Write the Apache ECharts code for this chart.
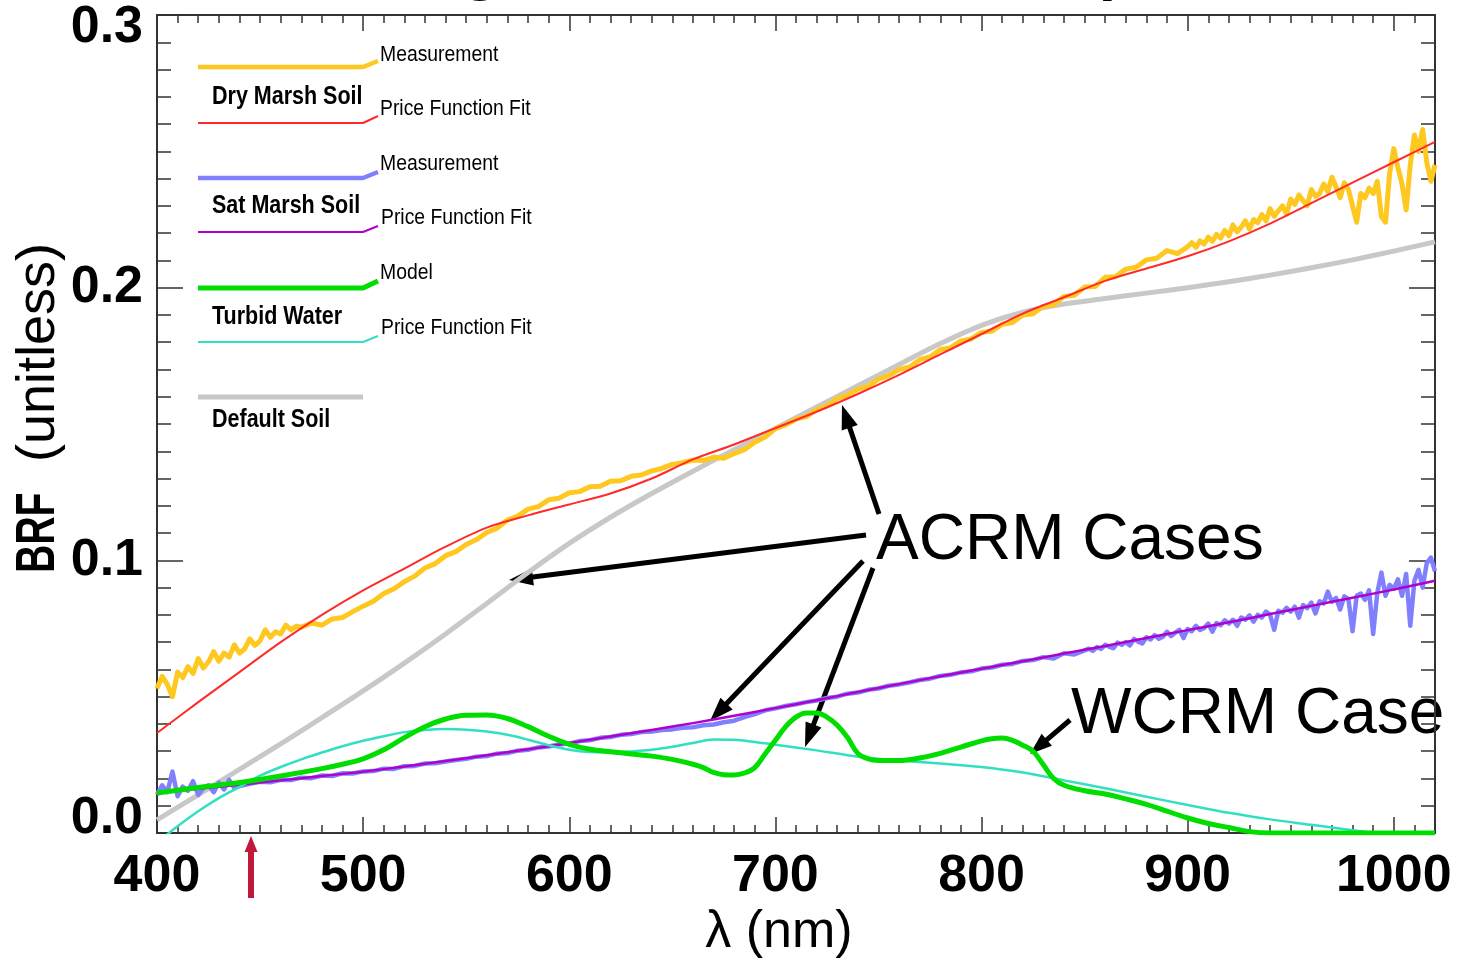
<!DOCTYPE html>
<html>
<head>
<meta charset="utf-8">
<title>BRF spectra</title>
<script src="https://cdn.jsdelivr.net/npm/echarts@6/dist/echarts.min.js"></script>
<style>
  html, body { margin: 0; padding: 0; background: #fff; }
  #chart { width: 1459px; height: 961px; }
</style>
</head>
<body>
<div id="chart"></div>
<script>
// ---- wavelength grids (nm) ----
function range(a, b, step) {
  const out = [];
  for (let i = 0; a + i * step <= b + 1e-9; i++) out.push(+(a + i * step).toFixed(2));
  return out;
}
const wl20 = range(400, 1020, 20);
// measured spectra: finer sampling at the noisy ends of the detector range
const dryWl = range(400, 470, 2.5).concat(range(475, 895, 5), range(900, 1020, 2));
const satWl = range(400, 440, 2.5).concat(range(445, 845, 5), range(850, 1020, 2));

// Dry marsh soil, measured BRF
const dryMeasured = [
  // 400-470 (2.5 nm)
  .0530,.0575,.0545,.0500,.0590,.0570,.0610,.0585,.0640,.0605,
  .0628,.0665,.0630,.0660,.0645,.0690,.0660,.0675,.0712,.0688,
  .0705,.0745,.0718,.0738,.0730,.0762,.0745,.0758,.0755,
  // 475-895 (5 nm)
  .0770,.0762,.0785,.0790,.0812,.0832,.0850,.0878,.0896,.0922,
  .0942,.0972,.0988,.1017,.1032,.1058,.1076,.1102,.1118,.1148,
  .1162,.1188,.1197,.1222,.1228,.1248,.1252,.1270,.1272,.1290,
  .1292,.1308,.1313,.1328,.1337,.1352,.1358,.1368,.1366,.1378,
  .1374,.1392,.1406,.1433,.1452,.1483,.1497,.1518,.1527,.1553,
  .1566,.1594,.1606,.1628,.1638,.1665,.1677,.1700,.1708,.1736,
  .1746,.1773,.1779,.1805,.1812,.1836,.1840,.1866,.1872,.1900,
  .1904,.1932,.1936,.1968,.1972,.2002,.2004,.2038,.2040,.2068,
  .2075,.2102,.2108,.2136,.2125,
  // 900-1020 (2 nm)
  .2150,.2165,.2148,.2172,.2160,.2185,.2170,.2195,.2182,.2210,
  .2190,.2230,.2205,.2222,.2245,.2215,.2250,.2238,.2268,.2245,
  .2290,.2262,.2282,.2300,.2270,.2325,.2305,.2340,.2318,.2300,
  .2360,.2335,.2345,.2380,.2352,.2405,.2370,.2330,.2385,.2360,
  .2300,.2240,.2345,.2330,.2365,.2345,.2390,.2260,.2240,.2420,
  .2510,.2440,.2380,.2285,.2450,.2560,.2500,.2580,.2460,.2390,
  .2450
];
// Dry marsh soil, Price function fit (20 nm)
const dryFit = [
  .0367,.0480,.0590,.0700,.0800,.0890,.0970,.1050,.1120,.1165,
  .1205,.1245,.1300,.1370,.1425,.1485,.1545,.1610,.1680,.1755,
  .1830,.1905,.1965,.2025,.2070,.2115,.2170,.2235,.2310,.2385,
  .2460,.2535
];
// Saturated marsh soil, measured BRF
const satMeasured = [
  // 400-440 (2.5 nm)
  .0140,.0175,.0150,.0225,.0135,.0170,.0155,.0190,.0140,.0165,
  .0175,.0150,.0185,.0160,.0195,.0165,.0172,
  // 445-845 (5 nm)
  .0180,.0188,.0186,.0195,.0194,.0203,.0201,.0211,.0209,.0219,
  .0218,.0226,.0227,.0236,.0235,.0245,.0246,.0255,.0256,.0262,
  .0268,.0272,.0280,.0282,.0291,.0293,.0302,.0305,.0314,.0317,
  .0325,.0328,.0337,.0340,.0349,.0352,.0360,.0363,.0370,.0372,
  .0378,.0380,.0386,.0388,.0395,.0398,.0406,.0412,.0425,.0436,
  .0450,.0457,.0466,.0472,.0480,.0486,.0495,.0500,.0511,.0515,
  .0525,.0530,.0540,.0545,.0552,.0561,.0566,.0576,.0580,.0589,
  .0593,.0603,.0607,.0617,.0620,.0631,.0634,.0645,.0640,.0659,
  .0655,
  // 850-1020 (2 nm)
  .0670,.0676,.0668,.0682,.0675,.0690,.0683,.0678,.0698,.0690,
  .0700,.0688,.0712,.0702,.0695,.0718,.0710,.0726,.0712,.0720,
  .0738,.0722,.0735,.0745,.0715,.0748,.0740,.0760,.0745,.0752,
  .0768,.0738,.0770,.0762,.0780,.0768,.0782,.0760,.0790,.0782,
  .0798,.0775,.0800,.0790,.0812,.0800,.0745,.0815,.0808,.0826,
  .0812,.0830,.0790,.0836,.0825,.0845,.0805,.0850,.0842,.0885,
  .0848,.0862,.0820,.0868,.0858,.0740,.0870,.0878,.0855,.0890,
  .0730,.0880,.0955,.0870,.0910,.0895,.0930,.0870,.0950,.0760,
  .0925,.0965,.0900,.0990,.1010,.0960
];
// Saturated marsh soil, Price function fit (20 nm)
const satFit = [
  .0147,.0162,.0177,.0193,.0209,.0225,.0244,.0264,.0285,.0307,
  .0330,.0354,.0378,.0403,.0430,.0458,.0487,.0517,.0546,.0575,
  .0602,.0630,.0658,.0686,.0715,.0744,.0773,.0803,.0833,.0863,
  .0893,.0925
];
// Turbid water, model
const waterModelWl = [
  400,420,440,460,480,490,500,510,520,530,540,550,560,570,580,590,600,610,620,630,
  640,650,660,665,670,675,680,685,690,695,700,705,710,715,720,725,730,735,740,745,
  750,760,770,780,790,800,805,810,815,820,825,830,835,840,850,860,870,880,890,900,
  910,920,930,940,960,980,1000,1020
];
const waterModel = [
  .0147,.0167,.0185,.0209,.0236,.0252,.0272,.0305,.0350,.0390,.0418,.0432,.0433,.0420,.0390,.0355,.0325,.0307,.0298,.0290,
  .0282,.0270,.0252,.0240,.0222,.0214,.0213,.0220,.0240,.0290,.0340,.0390,.0425,.0440,.0440,.0425,.0395,.0350,.0292,.0272,
  .0266,.0266,.0275,.0292,.0315,.0338,.0346,.0348,.0340,.0322,.0300,.0250,.0200,.0175,.0155,.0143,.0125,.0105,.0080,.0055,
  .0035,.0020,.0005,0,0,0,0,0
];
// Turbid water, Price function fit
const waterFitWl = [
  400,410,420,430,440,450,460,470,480,490,500,510,520,530,540,550,560,570,580,590,
  600,610,620,630,640,650,660,670,680,690,700,720,740,760,780,800,820,840,860,880,
  900,920,940,960,980,1000,1020
];
const waterFit = [
  -.0035,.0025,.0080,.0128,.0169,.0210,.0242,.0270,.0295,.0318,.0338,.0355,.0370,.0378,.0381,.0379,.0372,.0360,.0342,.0322,
  .0305,.0297,.0296,.0299,.0305,.0316,.0330,.0343,.0342,.0334,.0324,.0303,.0280,.0266,.0255,.0242,.0222,.0193,.0164,.0133,
  .0103,.0074,.0050,.0030,.0010,-.0008,-.0025
];
// Default soil (20 nm)
const defaultSoil = [
  .0048,.0140,.0233,.0327,.0423,.0521,.0623,.0730,.0842,.0955,
  .1062,.1158,.1245,.1327,.1406,.1484,.1562,.1640,.1718,.1795,
  .1862,.1910,.1940,.1960,.1980,.2000,.2022,.2046,.2073,.2102,
  .2134,.2168
];

// tick labels
const xTickValues = [400, 500, 600, 700, 800, 900, 1000];
const yTickValues = [0, 0.1, 0.2, 0.3];

const FONT = "'Liberation Sans', Arial, Helvetica, sans-serif";
const AXIS = '#333';

function pairs(xs, ys) { return xs.map((x, i) => [x, ys[i]]); }

function lineSeries(name, xs, ys, color, width, smooth) {
  return {
    name: name, type: 'line', data: pairs(xs, ys),
    symbol: 'none', smooth: smooth, clip: true,
    lineStyle: { color: color, width: width, join: 'round' },
    xAxisIndex: 0, yAxisIndex: 0, animation: false
  };
}

function xAx(pos, minor) {
  const a = {
    type: 'value', min: 400, max: 1020, position: pos,
    axisLine: { show: !minor, onZero: false, lineStyle: { color: AXIS, width: 2 } },
    splitLine: { show: false },
    axisTick: { show: true, inside: true, length: minor ? 8 : 16, lineStyle: { color: AXIS, width: 1.5 } },
    axisLabel: { show: false }
  };
  if (minor) { a.interval = 10; }
  else { a.axisTick.customValues = xTickValues; }
  if (pos === 'bottom' && !minor) {
    a.axisLabel = {
      show: true, customValues: xTickValues, margin: 18,
      fontSize: 52, fontWeight: 'bold', color: '#000', fontFamily: FONT,
      formatter: v => String(v)
    };
  }
  return a;
}

function yAx(pos, minor) {
  const a = {
    type: 'value', min: 0, max: 0.3, position: pos,
    axisLine: { show: !minor, onZero: false, lineStyle: { color: AXIS, width: 2 } },
    splitLine: { show: false },
    axisTick: { show: true, inside: true, length: minor ? 14 : 26, lineStyle: { color: AXIS, width: 1.5 } },
    axisLabel: { show: false }
  };
  a.interval = minor ? 0.01 : 0.1;
  if (pos === 'left' && !minor) {
    const base = { fontSize: 52, fontWeight: 'bold', color: '#000', fontFamily: FONT };
    a.axisLabel = {
      show: true, margin: 14, showMinLabel: true, showMaxLabel: true,
      customValues: yTickValues,
      formatter: v => {
        const s = v.toFixed(1);
        if (v < 1e-9) return '{lo|' + s + '}';
        if (Math.abs(v - 0.3) < 1e-9) return '{hi|' + s + '}';
        return '{n|' + s + '}';
      },
      rich: {
        n: Object.assign({}, base),
        lo: Object.assign({ padding: [0, 0, 28, 0] }, base),
        hi: Object.assign({ padding: [26, 0, 0, 0] }, base)
      }
    };
  }
  return a;
}

// arrow: shaft + triangular head, in screen pixels
function arrow(x1, y1, x2, y2, w, hl, hw, color) {
  const dx = x2 - x1, dy = y2 - y1, L = Math.hypot(dx, dy);
  const ux = dx / L, uy = dy / L, px = -uy, py = ux;
  const bx = x2 - ux * hl, by = y2 - uy * hl;
  return [
    { type: 'line', silent: true, shape: { x1: x1, y1: y1, x2: bx + ux * 2, y2: by + uy * 2 },
      style: { stroke: color, lineWidth: w } },
    { type: 'polygon', silent: true,
      shape: { points: [[x2, y2], [bx + px * hw / 2, by + py * hw / 2], [bx - px * hw / 2, by - py * hw / 2]] },
      style: { fill: color } }
  ];
}

function legendLine(y, y2, color, width) {
  const pts = [[198, y], [363, y]];
  if (y2 !== null) pts.push([378, y2]);
  return { type: 'polyline', silent: true, shape: { points: pts },
           style: { stroke: color, lineWidth: width, fill: null, lineJoin: 'round' } };
}
function legendText(txt, x, y, bold) {
  return { type: 'text', silent: true, x: x, y: y, scaleX: bold ? 0.86 : 0.88,
           style: { text: txt, fill: '#000', font: (bold ? 'bold 25px ' : '22px ') + FONT,
                    align: 'left', verticalAlign: 'middle' } };
}
function bigText(txt, x, y, size, weight, align) {
  return { type: 'text', silent: true, x: x, y: y,
           style: { text: txt, fill: '#000', font: weight + ' ' + size + 'px ' + FONT,
                    align: align, verticalAlign: 'middle' } };
}

const graphics = [].concat(
  // title
  [bigText('Background Reflectance Spectra', 799, -29, 62, 'bold', 'center')],
  // legend
  [
    legendLine(67, 61, '#ffc820', 4.5),
    legendLine(123, 116, '#ff2a2a', 2),
    legendLine(178, 172, '#8080ff', 4.5),
    legendLine(232, 226, '#b000cc', 2),
    legendLine(288, 281, '#00dd00', 5),
    legendLine(342, 336, '#30e0c0', 2),
    legendLine(397, null, '#c8c8c8', 5),
    legendText('Measurement', 380, 55, false),
    legendText('Dry Marsh Soil', 212, 97, true),
    legendText('Price Function Fit', 380, 109, false),
    legendText('Measurement', 380, 164, false),
    legendText('Sat Marsh Soil', 212, 206, true),
    legendText('Price Function Fit', 381, 218, false),
    legendText('Model', 380, 273, false),
    legendText('Turbid Water', 212, 317, true),
    legendText('Price Function Fit', 381, 328, false),
    legendText('Default Soil', 212, 420, true)
  ],
  // annotations
  [bigText('ACRM Cases', 876, 541, 64, 'normal', 'left'),
   bigText('WCRM Case', 1071, 715, 64, 'normal', 'left')],
  arrow(879, 514, 842, 405, 5, 24, 17, '#000'),
  arrow(866, 535, 509, 580, 5, 24, 17, '#000'),
  arrow(863, 561, 710, 721, 5, 24, 17, '#000'),
  arrow(873, 568, 805, 747, 5, 24, 17, '#000'),
  arrow(1070, 720, 1030, 754, 5, 22, 16, '#000'),
  arrow(251, 898, 251, 836, 6, 16, 13, '#c0183a'),
  // axis titles
  [bigText('\u03bb (nm)', 779, 933, 52, 'normal', 'center'),
   { type: 'text', silent: true, x: 39, y: 573, rotation: Math.PI / 2, scaleX: 0.7,
     style: { text: 'BRF', fill: '#000', font: 'bold 56px ' + FONT, align: 'left', verticalAlign: 'middle' } },
   { type: 'text', silent: true, x: 39, y: 462, rotation: Math.PI / 2,
     style: { text: '(unitless)', fill: '#000', font: 'normal 54px ' + FONT, align: 'left', verticalAlign: 'middle' } }]
);

const chart = echarts.init(document.getElementById('chart'), null, { renderer: 'canvas' });
chart.setOption({
  animation: false,
  backgroundColor: '#fff',
  grid: { left: 157, right: 24, top: 15, bottom: 128, containLabel: false, outerBoundsMode: 'none' },
  xAxis: [xAx('bottom', false), xAx('bottom', true), xAx('top', false), xAx('top', true)],
  yAxis: [yAx('left', false), yAx('left', true), yAx('right', false), yAx('right', true)],
  series: [
    lineSeries('Default Soil', wl20, defaultSoil, '#c8c8c8', 5, 0.3),
    lineSeries('Dry Marsh Soil Measurement', dryWl, dryMeasured, '#ffc820', 5, false),
    lineSeries('Dry Marsh Soil Price Function Fit', wl20, dryFit, '#ff2a2a', 2, 0.3),
    lineSeries('Sat Marsh Soil Measurement', satWl, satMeasured, '#8080ff', 4.5, false),
    lineSeries('Sat Marsh Soil Price Function Fit', wl20, satFit, '#b000cc', 2.5, 0.3),
    lineSeries('Turbid Water Price Function Fit', waterFitWl, waterFit, '#30e0c0', 2.5, 0.3),
    lineSeries('Turbid Water Model', waterModelWl, waterModel, '#00dd00', 5, 0.4)
  ],
  graphic: graphics
});
</script>
</body>
</html>
